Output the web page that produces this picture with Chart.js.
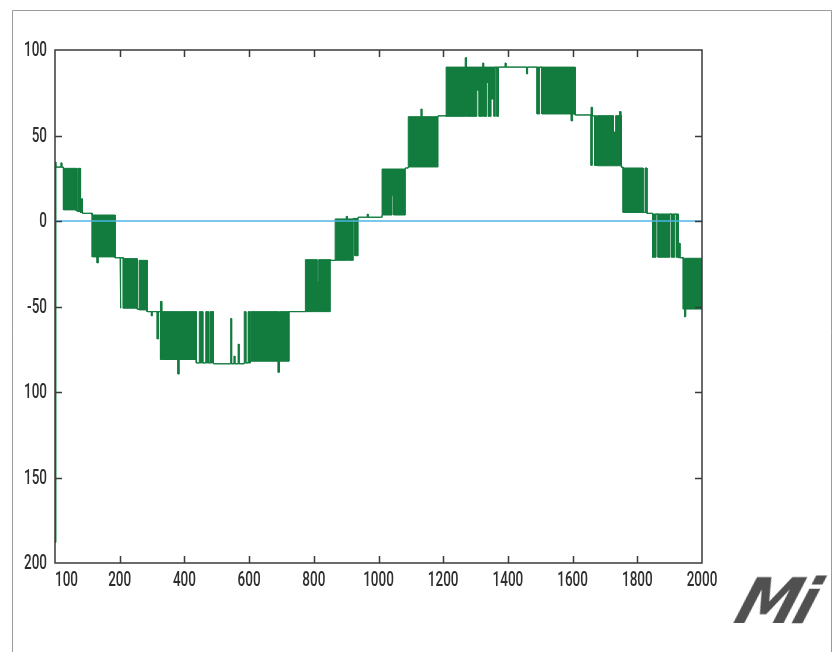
<!DOCTYPE html>
<html>
<head>
<meta charset="utf-8">
<script src="https://cdn.jsdelivr.net/npm/chart.js@4.4.1/dist/chart.umd.min.js"></script>
<style>
  html, body { margin: 0; padding: 0; background: #fff; }
  #wrap { position: relative; width: 837px; height: 652px; }
  #logo {
    position: absolute; left: 739px; top: 565px;
    font-family: 'DejaVu Sans', sans-serif; font-weight: bold; font-style: italic;
    font-size: 62px; color: #505050; letter-spacing: -4px;
    transform: skewX(-18deg);
  }
</style>
</head>
<body>
<div id="wrap">
  <canvas id="chart" width="837" height="652"></canvas>
  <div id="logo">Mi</div>
</div>
<script>
// signal: each block runs from segEdges[i] to segEdges[i+1]
// and swings between segLow[i] and segHigh[i] (equal values = a plain line)
const segEdges = [0,3,18,21,26,66,70,79,82,85,115,130,134,186,201,204,211,254,260,285,
  298,301,316,320,326,330,380,384,437,446,457,466,475,479,490,543,546,553,556,566,569,
  585,590,597,601,604,690,694,724,774,810,815,851,866,900,904,922,927,937,965,968,1011,
  1042,1047,1083,1092,1131,1134,1184,1209,1268,1272,1304,1311,1322,1325,1335,1340,1348,
  1357,1361,1366,1371,1391,1394,1458,1461,1490,1498,1505,1596,1600,1608,1657,1661,1668,
  1677,1726,1733,1745,1749,1751,1756,1818,1824,1830,1847,1858,1864,1901,1906,1916,1921,
  1927,1932,1942,1946,1950,2000];
const segLow = [-188,31.5,31.5,31.5,6.5,6,5.5,5,5,4.5,-21,-24.5,-21,-21.5,-51,-21.5,-51,-51.5,-52,-53,
  -55.5,-53,-69,-53,-81,-81,-89.5,-81,-83,-83,-83,-83,-83,-83,-83.5,-83.5,-83.5,-83.5,-83.5,-83.5,-83.5,
  -83,-83,-83,-83,-82,-88.5,-82,-53,-53,-53,-53,-23,-23,-23,-23,1.5,-20.3,2.2,2.2,2.2,
  3.5,14.8,3.5,31,31.6,31.6,31.6,61.5,61.2,61.2,61.2,76.5,61.2,61.2,61.2,81,61.2,71.3,
  61.2,90,61.2,90,90,90,86,90,62.6,90,62.6,58.5,62.6,62,32.5,61.5,32.5,
  32.3,32.3,32.3,32.3,32.3,31.5,5,5,5,4.5,-21.2,4.1,-21.2,4.1,-21.2,4.1,-21.2,
  -21.5,-21.5,-51.5,-56,-51.5];
const segHigh = [34.5,31.5,34,31.5,30.8,6,30.8,5,13,4.5,3.5,3.5,3.5,-21.5,-21.5,-21.5,-22,-51.5,-23,-53,
  -53,-53,-53,-53,-47,-53,-53,-53,-83,-53,-83,-53,-83,-53,-83.5,-57,-83.5,-79,-83.5,-72,-83.5,
  -53,-83,-53,-83,-53,-53,-53,-53,-22.6,-35.7,-22.6,-23,1.2,2.7,1.2,1.5,1.5,2.2,4,2.2,
  30.4,30.4,30.4,31,61,65.5,61,61.5,90,95.5,90,90,90,92.4,90,90,90,90,
  90,90,90,90,92.4,90,90,90,90,90,90,90,90,62,66.5,61.5,61.5,
  61.6,52,61.6,64,61.6,31.5,31,5,31,4.5,4.1,4.1,4.1,4.1,4.1,4.1,4.1,
  -13,-21.5,-21.8,-21.8,-21.8];

const refX = [0, 2000];
const refY = [0, 0];

const xTickValues = [0, 200, 400, 600, 800, 1000, 1200, 1400, 1600, 1800, 2000];
const xTickLabels = ['100', '200', '400', '600', '800', '1000', '1200', '1400', '1600', '1800', '2000'];
const yTickValues = [100, 50, 0, -50, -100, -150, -200];
const yTickLabels = ['100', '50', '0', '-50', '100', '150', '200'];

const upperPts = [];
const lowerPts = [];
const n = Math.min(segLow.length, segHigh.length, segEdges.length - 1);
for (let i = 0; i < n; i++) {
    upperPts.push({ x: segEdges[i], y: segHigh[i] }, { x: segEdges[i + 1], y: segHigh[i] });
    lowerPts.push({ x: segEdges[i], y: segLow[i] }, { x: segEdges[i + 1], y: segLow[i] });
}
const refPts = refX.map((x, i) => ({ x: x, y: refY[i] }));

const GREEN = '#127b3e';
const AXIS = '#3a3a3a';
const TEXT = '#2e2e2e';

const framePlugin = {
    id: 'frame',
    beforeDraw(chart) {
        const c = chart.ctx;
        c.save();
        c.fillStyle = '#fff';
        c.fillRect(0, 0, chart.width, chart.height);
        c.strokeStyle = '#9a9a9a';
        c.lineWidth = 1;
        c.beginPath();
        c.moveTo(12.5, 652); c.lineTo(12.5, 10.5); c.lineTo(831.5, 10.5); c.lineTo(831.5, 652);
        c.stroke();
        c.restore();
    },
    afterDraw(chart) {
        const c = chart.ctx;
        const a = chart.chartArea;
        const xs = chart.scales.x, ys = chart.scales.y;
        c.save();
        c.strokeStyle = AXIS;
        c.lineWidth = 1.5;
        c.strokeRect(a.left, a.top, a.right - a.left, a.bottom - a.top);
        const tl = 7;
        c.beginPath();
        xTickValues.forEach(v => {
            if (v <= xs.min || v >= xs.max) return;
            const px = Math.round(xs.getPixelForValue(v)) + 0.5;
            c.moveTo(px, a.bottom); c.lineTo(px, a.bottom - tl);
            c.moveTo(px, a.top); c.lineTo(px, a.top + tl);
        });
        yTickValues.forEach(v => {
            if (v <= ys.min || v >= ys.max) return;
            const py = Math.round(ys.getPixelForValue(v)) + 0.5;
            c.moveTo(a.left, py); c.lineTo(a.left + tl, py);
            c.moveTo(a.right, py); c.lineTo(a.right - tl, py);
        });
        c.stroke();

        // condensed tick labels, squeezed to the width seen in the picture
        c.fillStyle = TEXT;
        c.font = "500 21px Roboto, 'DejaVu Sans', sans-serif";
        const sx = 23 / c.measureText('000').width;
        c.textBaseline = 'middle';
        const drawLabel = (txt, x, y, align) => {
            const w = c.measureText(txt).width * sx;
            let left = x - w / 2;
            if (align === 'right') left = x - w;
            if (align === 'left') left = x;
            c.save();
            c.translate(left, y);
            c.scale(sx, 1);
            c.textAlign = 'left';
            c.fillText(txt, 0, 0);
            c.restore();
        };
        xTickValues.forEach((v, i) => {
            const px = xs.getPixelForValue(v);
            drawLabel(xTickLabels[i], px, a.bottom + 18, i === 0 ? 'left' : 'center');
        });
        yTickValues.forEach((v, i) => {
            const py = ys.getPixelForValue(v);
            drawLabel(yTickLabels[i], a.left - 8, py + 1, 'right');
        });
        c.restore();
    }
};

const chart = new Chart(document.getElementById('chart'), {
    type: 'line',
    data: {
        datasets: [
            {
                label: 'upper',
                data: upperPts,
                borderColor: GREEN,
                borderWidth: 1,
                pointRadius: 0,
                tension: 0,
                fill: false,
            },
            {
                label: 'lower',
                data: lowerPts,
                borderColor: GREEN,
                borderWidth: 1,
                backgroundColor: GREEN,
                pointRadius: 0,
                tension: 0,
                fill: 0,
            },
            {
                label: 'zero',
                data: refPts,
                borderColor: '#4fb6e6',
                borderWidth: 1.6,
                pointRadius: 0,
                fill: false,
                order: -1,
            }
        ]
    },
    options: {
        responsive: false,
        animation: false,
        events: [],
        layout: { padding: { left: 55, right: 135, top: 50, bottom: 89 } },
        plugins: {
            legend: { display: false },
            tooltip: { enabled: false },
        },
        scales: {
            x: { type: 'linear', min: 0, max: 2000, display: false },
            y: { type: 'linear', min: -200, max: 100, display: false }
        }
    },
    plugins: [framePlugin]
});
</script>
</body>
</html>
